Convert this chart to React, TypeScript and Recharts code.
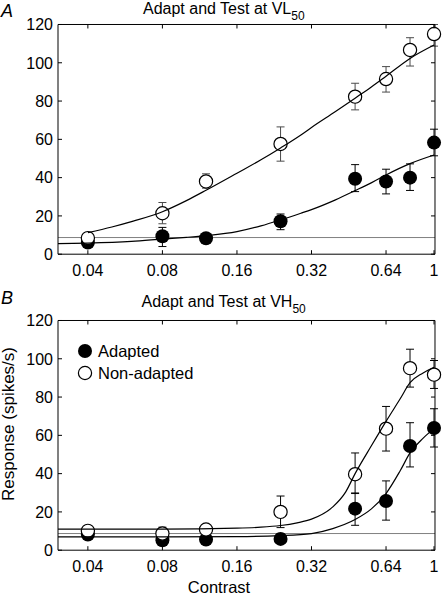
import React from 'react'
import {
  ComposedChart,
  Scatter,
  Line,
  XAxis,
  YAxis,
  ErrorBar,
  ReferenceLine,
} from 'recharts'

const contrasts = [0.04, 0.08, 0.12, 0.24, 0.48, 0.64, 0.8, 1]
const xTicks = [0.04, 0.08, 0.16, 0.32, 0.64, 1]
const yTicks = [0, 20, 40, 60, 80, 100, 120]

// panel A: adapt and test at VL50
const vlAdapted      = [6.1, 9.4, 8.3, 17.2, 39.4, 38.0, 40.0, 58.3]
const vlAdaptedHi    = [8.0, 14.0, 10.0, 21.0, 46.8, 44.4, 47.2, 65.3]
const vlAdaptedLo    = [4.5, 4.0, 6.8, 12.8, 32.7, 31.5, 33.3, 51.4]
const vlNonAdapted   = [8.4, 21.4, 38.0, 57.6, 82.3, 91.5, 106.7, 115.0]
const vlNonAdaptedHi = [11.0, 27.0, 42.0, 66.5, 89.3, 98.0, 113.1, 120.0]
const vlNonAdaptedLo = [6.0, 15.9, 34.5, 48.6, 75.4, 84.7, 98.3, 108.7]
const vlBaseline = 8.7

// fitted curves
const vlNonAdaptedFitC = [0.04, 0.05, 0.06, 0.08, 0.1, 0.12, 0.16, 0.2, 0.24, 0.29, 0.32, 0.4, 0.48, 0.56, 0.64, 0.8, 1]
const vlNonAdaptedFit  = [11.3, 14.2, 17.0, 22.2, 28.0, 33.4, 42.3, 49.3, 55.5, 62.3, 66.2, 74.5, 81.5, 87.5, 93.0, 102.3, 109.3]
const vlAdaptedFitC = [0.0303, 0.04, 0.06, 0.08, 0.1, 0.12, 0.16, 0.2, 0.24, 0.29, 0.32, 0.4, 0.48, 0.56, 0.64, 0.8, 1]
const vlAdaptedFit  = [5.5, 5.8, 6.7, 7.9, 8.8, 9.7, 11.8, 14.8, 17.9, 21.4, 23.3, 28.4, 33.2, 37.4, 41.4, 47.3, 51.8]

// panel B: adapt and test at VH50
const vhAdapted      = [8.2, 5.2, 5.6, 5.9, 21.7, 25.7, 54.4, 63.8]
const vhAdaptedHi    = [10.0, 7.0, 7.2, 8.7, 29.9, 36.2, 66.6, 73.9]
const vhAdaptedLo    = [6.5, 3.8, 4.2, 4.0, 13.0, 15.7, 43.5, 53.9]
const vhNonAdapted   = [10.1, 8.7, 10.8, 20.0, 39.7, 63.5, 95.1, 91.7]
const vhNonAdaptedHi = [12.9, 12.0, 13.0, 28.3, 50.8, 75.1, 105.0, 99.1]
const vhNonAdaptedLo = [7.3, 6.0, 8.5, 11.8, 29.6, 51.8, 85.2, 84.5]
const vhBaseline = 8.7

const vhNonAdaptedFitC = [0.0303, 0.08, 0.16, 0.2, 0.24, 0.28, 0.32, 0.39, 0.44, 0.48, 0.56, 0.64, 0.73, 0.8, 0.9, 1]
const vhNonAdaptedFit  = [11.0, 11.0, 11.5, 12.0, 12.9, 14.3, 16.2, 22.6, 30.5, 40.0, 54.8, 67.3, 79.1, 87.5, 92.5, 95.6]
const vhAdaptedFitC = [0.0303, 0.08, 0.16, 0.24, 0.32, 0.39, 0.48, 0.56, 0.64, 0.73, 0.8, 0.9, 1]
const vhAdaptedFit  = [7.0, 7.0, 7.1, 7.6, 8.7, 11.3, 16.0, 21.7, 29.6, 41.5, 50.8, 58.3, 63.5]

const W = 443
const H = 601
const PANEL_H = 295.7
const X_DOMAIN: [number, number] = [0.0303, 1.009]
const MARGIN = { top: 23.5, right: 7, bottom: 11.5, left: 0 }
const FONT = '"Liberation Sans", Arial, Helvetica, sans-serif'
const AXIS = { stroke: '#000', strokeWidth: 1 }
const TICK_LEN = 4

type Row = { c: number; v: number; err: [number, number] }
type Pt = { c: number; v: number }

const points = (v: number[], lo: number[], hi: number[]): Row[] =>
  contrasts.map((c, i) => ({ c, v: v[i], err: [v[i] - lo[i], hi[i] - v[i]] }))

const curve = (cs: number[], vs: number[]): Pt[] => cs.map((c, i) => ({ c, v: vs[i] }))

const BottomTick = ({ x, y, payload }: any) => (
  <g>
    <line x1={x} y1={y} x2={x} y2={y - TICK_LEN} stroke="#000" />
    <text x={x} y={y + 21.5} textAnchor="middle" fontSize={16} fontFamily={FONT} fill="#000">
      {String(payload.value)}
    </text>
  </g>
)

const TopTick = ({ x, y }: any) => (
  <line x1={x} y1={y} x2={x} y2={y + TICK_LEN} stroke="#000" />
)

const LeftTick = ({ x, y, payload }: any) => (
  <g>
    <line x1={x} y1={y} x2={x + TICK_LEN} y2={y} stroke="#000" />
    <text x={x - 5} y={y + 5.8} textAnchor="end" fontSize={16} fontFamily={FONT} fill="#000">
      {String(payload.value)}
    </text>
  </g>
)

const RightTick = ({ x, y }: any) => (
  <line x1={x} y1={y} x2={x - TICK_LEN} y2={y} stroke="#000" />
)

const FilledDot = ({ cx, cy }: any) => <circle cx={cx} cy={cy} r={7} fill="#000" />
const OpenDot = ({ cx, cy }: any) => (
  <circle cx={cx} cy={cy} r={6.6} fill="#fff" stroke="#000" strokeWidth={1.2} />
)

// same axis layout for both layers; the overlay hides ticks and lines
function Axes({ visible }: { visible: boolean }) {
  const line = visible ? AXIS : false
  return [
    <XAxis
      key="b" xAxisId="b" dataKey="c" type="number" scale="log" domain={X_DOMAIN}
      ticks={xTicks} interval={0} tickSize={0} tickMargin={0} tickLine={false}
      axisLine={line} tick={visible ? (p: any) => <BottomTick {...p} /> : false} height={30}
    />,
    <XAxis
      key="t" xAxisId="t" orientation="top" dataKey="c" type="number" scale="log" domain={X_DOMAIN} allowDataOverflow
      ticks={xTicks} interval={0} tickSize={0} tickMargin={0} tickLine={false}
      axisLine={line} tick={visible ? (p: any) => <TopTick {...p} /> : false} height={1}
    />,
    <YAxis
      key="l" yAxisId="l" type="number" domain={[0, 120]} ticks={yTicks} interval={0}
      tickSize={0} tickMargin={0} tickLine={false} axisLine={line}
      tick={visible ? (p: any) => <LeftTick {...p} /> : false} width={58}
    />,
    <YAxis
      key="r" yAxisId="r" orientation="right" type="number" domain={[0, 120]} allowDataOverflow ticks={yTicks} interval={0}
      tickSize={0} tickMargin={0} tickLine={false} axisLine={line}
      tick={visible ? (p: any) => <RightTick {...p} /> : false} width={1}
    />,
  ]
}

type PanelProps = {
  adapted: Row[]
  nonAdapted: Row[]
  adaptedFit: Pt[]
  nonAdaptedFit: Pt[]
  baseline: number
  openErrColor: string
}

function Panel({ adapted, nonAdapted, adaptedFit, nonAdaptedFit, baseline, openErrColor }: PanelProps) {
  return (
    <div style={{ position: 'relative', width: W, height: PANEL_H }}>
      <div style={{ position: 'absolute', left: 0, top: 0 }}>
        <ComposedChart width={W} height={PANEL_H} margin={MARGIN}>
          {Axes({ visible: true })}
          <ReferenceLine xAxisId="b" yAxisId="l" y={baseline} stroke="#808080" strokeWidth={1} />
          <Scatter
            xAxisId="b" yAxisId="l" data={adapted} dataKey="v"
            shape={(p: any) => <FilledDot {...p} />} isAnimationActive={false}
          >
            <ErrorBar dataKey="err" direction="y" width={4} stroke="#000" strokeWidth={1} isAnimationActive={false} />
          </Scatter>
          <Scatter
            xAxisId="b" yAxisId="l" data={nonAdapted} dataKey="v"
            shape={(p: any) => <OpenDot {...p} />} isAnimationActive={false}
          >
            <ErrorBar dataKey="err" direction="y" width={4} stroke={openErrColor} strokeWidth={1} isAnimationActive={false} />
          </Scatter>
        </ComposedChart>
      </div>
      {/* fitted curves sit above the markers */}
      <div style={{ position: 'absolute', left: 0, top: 0, pointerEvents: 'none' }}>
        <ComposedChart width={W} height={PANEL_H} margin={MARGIN}>
          {Axes({ visible: false })}
          <Line
            xAxisId="b" yAxisId="l" data={adaptedFit} dataKey="v" type="monotone"
            stroke="#000" strokeWidth={1.2} dot={false} activeDot={false} isAnimationActive={false}
          />
          <Line
            xAxisId="b" yAxisId="l" data={nonAdaptedFit} dataKey="v" type="monotone"
            stroke="#000" strokeWidth={1.2} dot={false} activeDot={false} isAnimationActive={false}
          />
        </ComposedChart>
      </div>
    </div>
  )
}

function Title({ x, y, main, sub }: { x: number; y: number; main: string; sub: string }) {
  return (
    <text x={x} y={y} fontSize={16} fontFamily={FONT} fill="#000">
      {main}
      <tspan fontSize={12} dy={6}>{sub}</tspan>
    </text>
  )
}

export default function App() {
  return (
    <div style={{ position: 'absolute', left: 0, top: 0, width: W, height: H, background: '#fff' }}>
      <div style={{ position: 'absolute', left: 0, top: 0 }}>
        <Panel
          adapted={points(vlAdapted, vlAdaptedLo, vlAdaptedHi)}
          nonAdapted={points(vlNonAdapted, vlNonAdaptedLo, vlNonAdaptedHi)}
          adaptedFit={curve(vlAdaptedFitC, vlAdaptedFit)}
          nonAdaptedFit={curve(vlNonAdaptedFitC, vlNonAdaptedFit)}
          baseline={vlBaseline}
          openErrColor="#4a4a4a"
        />
      </div>
      <div style={{ position: 'absolute', left: 0, top: PANEL_H }}>
        <Panel
          adapted={points(vhAdapted, vhAdaptedLo, vhAdaptedHi)}
          nonAdapted={points(vhNonAdapted, vhNonAdaptedLo, vhNonAdaptedHi)}
          adaptedFit={curve(vhAdaptedFitC, vhAdaptedFit)}
          nonAdaptedFit={curve(vhNonAdaptedFitC, vhNonAdaptedFit)}
          baseline={vhBaseline}
          openErrColor="#000"
        />
      </div>
      <svg
        width={W} height={H}
        style={{ position: 'absolute', left: 0, top: 0, pointerEvents: 'none' }}
      >
        <text x={1} y={16.5} fontSize={18} fontStyle="italic" fontFamily={FONT}>A</text>
        <text x={1} y={303.5} fontSize={18} fontStyle="italic" fontFamily={FONT}>B</text>
        <Title x={143} y={14} main="Adapt and Test at VL" sub="50" />
        <Title x={141.5} y={306.5} main="Adapt and Test at VH" sub="50" />

        {/* legend, panel B */}
        <circle cx={85} cy={351} r={7} fill="#000" />
        <text x={98} y={357} fontSize={16.5} fontFamily={FONT}>Adapted</text>
        <circle cx={85} cy={373} r={6.6} fill="#fff" stroke="#000" strokeWidth={1.2} />
        <text x={98} y={379} fontSize={16.5} fontFamily={FONT}>Non-adapted</text>

        <text
          x={0} y={0} fontSize={17} fontFamily={FONT} textAnchor="middle"
          transform="translate(14, 424) rotate(-90)"
        >
          Response (spikes/s)
        </text>
        <text x={219} y={593} fontSize={16.5} fontFamily={FONT} textAnchor="middle">Contrast</text>
      </svg>
    </div>
  )
}
